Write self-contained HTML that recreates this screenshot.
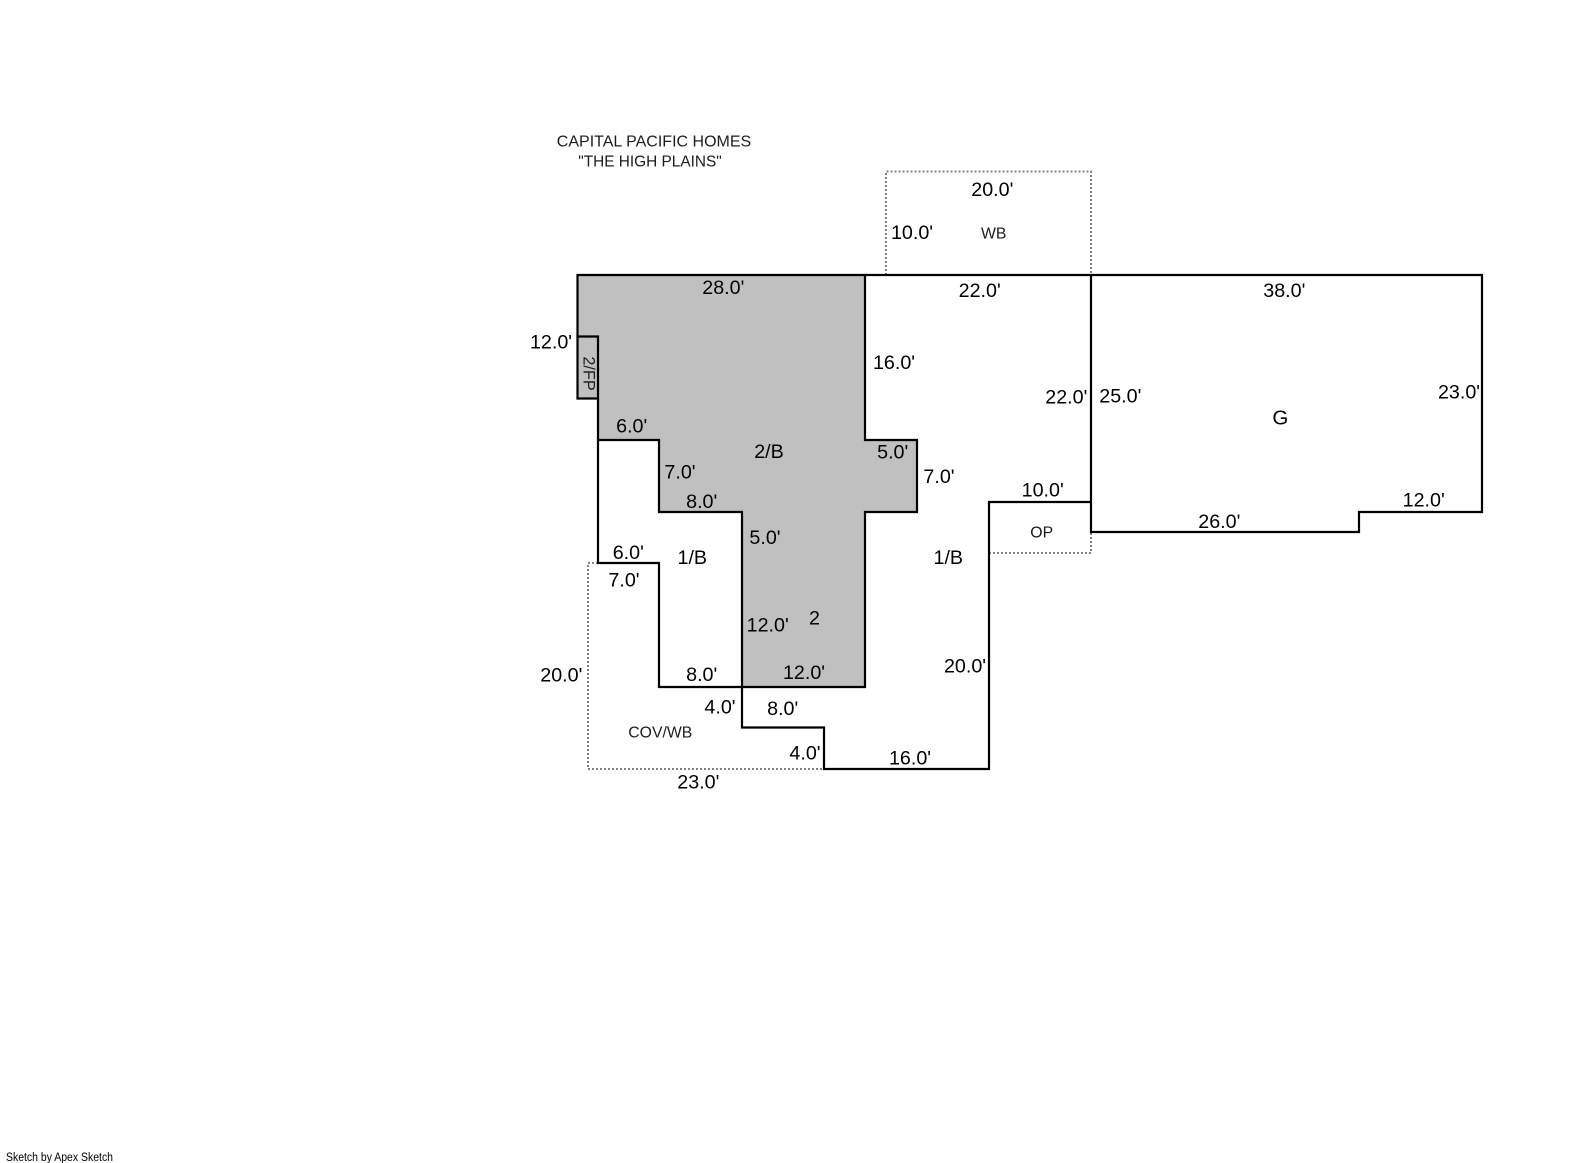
<!DOCTYPE html>
<html>
<head>
<meta charset="utf-8">
<style>
html,body{margin:0;padding:0;background:#fff;width:1585px;height:1163px;overflow:hidden}
svg{display:block}
text{font-family:"Liberation Sans",Arial,sans-serif;fill:#000}
.d{font-size:19.7px;text-anchor:middle}
.s{font-size:15.8px;text-anchor:middle;fill:#1c1c1c}
.t{font-size:16px;text-anchor:middle;fill:#1c1c1c}
.l{fill:none;stroke:#000;stroke-width:2.2}
.g{fill:none;stroke:#808080;stroke-width:2;stroke-dasharray:2 2}
</style>
</head>
<body>
<svg width="1585" height="1163" viewBox="0 0 1585 1163" xmlns="http://www.w3.org/2000/svg">
<rect width="1585" height="1163" fill="#fff"/>
<!-- shaded upper floor -->
<path d="M577.5 275H865V440H917V512H865V687H742V512H659V440H598V398.5H577.5Z" fill="#c0c0c0"/>
<!-- dotted -->
<path class="g" d="M886 275V171.5H1091V275"/>
<path class="g" d="M598 563H588V769H824"/>
<path class="g" d="M989 553H1091V532"/>
<!-- solid outlines -->
<path class="l" d="M577.5 336.5V275H865V440H917V512H865V687H659V563H598V398.5"/>
<path class="l" d="M577.5 336.5H598V398.5H577.5Z"/>
<path class="l" d="M598 440H659V512H742V727.5H824V769H989V502H1091"/>
<path class="l" d="M865 275H1482V512H1359V532H1091V275"/>
<!-- title -->
<text class="t" x="654" y="146.7">CAPITAL PACIFIC HOMES</text>
<text class="t" x="650" y="166.7" textLength="143.5" lengthAdjust="spacingAndGlyphs">"THE HIGH PLAINS"</text>
<!-- dimensions -->
<text class="d" x="992.3" y="196">20.0'</text>
<text class="d" x="912" y="239">10.0'</text>
<text class="d" x="723.3" y="294">28.0'</text>
<text class="d" x="979.7" y="297">22.0'</text>
<text class="d" x="1284.3" y="297">38.0'</text>
<text class="d" x="551" y="348.3">12.0'</text>
<text class="d" x="894" y="369">16.0'</text>
<text class="d" x="1066.3" y="403.3">22.0'</text>
<text class="d" x="1120.3" y="402.5">25.0'</text>
<text class="d" x="1459" y="398.5">23.0'</text>
<text class="d" x="631.7" y="432.5">6.0'</text>
<text class="d" x="892.7" y="458.3">5.0'</text>
<text class="d" x="680" y="478.3">7.0'</text>
<text class="d" x="939" y="483">7.0'</text>
<text class="d" x="1042.7" y="496.3">10.0'</text>
<text class="d" x="701.7" y="508">8.0'</text>
<text class="d" x="1423.7" y="506.7">12.0'</text>
<text class="d" x="1219.3" y="528">26.0'</text>
<text class="d" x="765" y="544">5.0'</text>
<text class="d" x="628.3" y="559">6.0'</text>
<text class="d" x="624" y="586.7">7.0'</text>
<text class="d" x="767.7" y="631.3">12.0'</text>
<text class="d" x="965" y="672.5">20.0'</text>
<text class="d" x="561.3" y="681.5">20.0'</text>
<text class="d" x="701.7" y="681">8.0'</text>
<text class="d" x="804" y="679">12.0'</text>
<text class="d" x="720" y="713.3">4.0'</text>
<text class="d" x="782.7" y="715">8.0'</text>
<text class="d" x="805" y="759.3">4.0'</text>
<text class="d" x="910" y="764.5">16.0'</text>
<text class="d" x="698.3" y="788.3">23.0'</text>
<!-- area labels -->
<text class="d" x="769" y="458">2/B</text>
<text class="d" x="692.3" y="564">1/B</text>
<text class="d" x="948.3" y="564">1/B</text>
<text class="d" x="814.5" y="624.3">2</text>
<text class="d" x="1280.3" y="424.3" style="font-size:20.5px">G</text>
<text class="s" x="993.7" y="238.5">WB</text>
<text class="s" x="1041.7" y="537.7">OP</text>
<text class="s" x="660.3" y="737.5">COV/WB</text>
<text class="s" transform="translate(583.5 373.5) rotate(90)" x="0" y="0" style="font-size:16.3px">2/FP</text>
<!-- footer -->
<text x="6" y="1161" font-size="11.5" textLength="107" lengthAdjust="spacingAndGlyphs">Sketch by Apex Sketch</text>
</svg>
</body>
</html>
